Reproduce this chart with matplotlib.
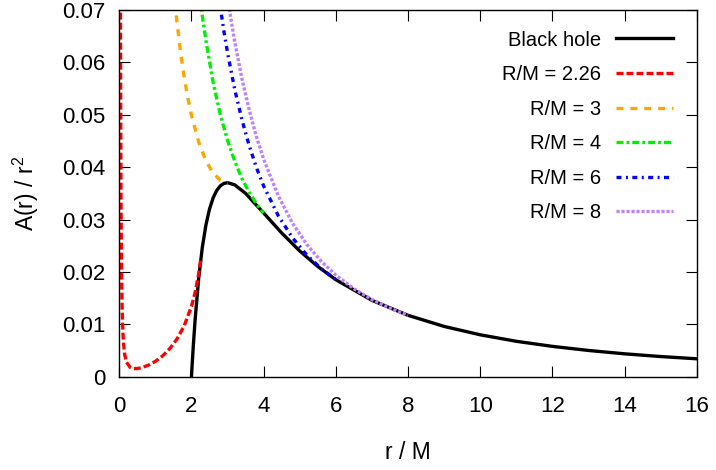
import matplotlib
matplotlib.use("Agg")
import matplotlib.pyplot as plt
from matplotlib.ticker import FuncFormatter

plt.rcParams['font.family'] = ['Liberation Sans', 'DejaVu Sans']
plt.rcParams['mathtext.fontset'] = 'custom'
plt.rcParams['mathtext.rm'] = 'Liberation Sans'
plt.rcParams['mathtext.it'] = 'Liberation Sans'
plt.rcParams['lines.scale_dashes'] = False

# values: r / M and A(r) / r^2
bh_r = [2.0, 2.02, 2.05, 2.1, 2.2, 2.3, 2.4, 2.5, 2.6, 2.7, 2.8, 2.9, 3.0, 3.2, 3.5,
        4.0, 4.5, 5.0, 5.5, 6.0, 7.0, 8.0, 9.0, 10.0, 11.0, 12.0, 13.0, 14.0, 15.0, 16.0]
bh_y = [0.0, 0.00243, 0.00580, 0.01080, 0.01878, 0.02466, 0.02894, 0.0320, 0.03414,
        0.03556, 0.03644, 0.03690, 0.03704, 0.03662, 0.03499, 0.03125, 0.02744, 0.0240,
        0.02104, 0.01852, 0.01458, 0.01172, 0.00960, 0.0080, 0.00676, 0.00579, 0.00501,
        0.00437, 0.00385, 0.00342]

r226_r = [0.033, 0.035, 0.04, 0.045, 0.05, 0.06, 0.07, 0.08, 0.1, 0.12, 0.15, 0.2, 0.3,
          0.4, 0.5, 0.6, 0.8, 1.0, 1.2, 1.4, 1.6, 1.8, 2.0, 2.1, 2.2, 2.26]
r226_y = [0.0714, 0.0636, 0.0489, 0.0388, 0.0315, 0.0221, 0.01647, 0.01279, 0.00847,
          0.00613, 0.00422, 0.00276, 0.00179, 0.00155, 0.00156, 0.00168, 0.00218, 0.00293,
          0.00397, 0.00536, 0.00720, 0.00974, 0.01343, 0.01603, 0.01959, 0.02252]

r3_r = [1.54, 1.6, 1.7, 1.8, 1.9, 2.0, 2.2, 2.4, 2.6, 2.8, 2.9, 3.0]
r3_y = [0.0716, 0.0676, 0.0618, 0.0571, 0.0532, 0.0499, 0.0448, 0.0412, 0.0389,
        0.0375, 0.03716, 0.03704]

r4_r = [2.2, 2.25, 2.3, 2.4, 2.6, 2.8, 3.0, 3.2, 3.4, 3.6, 3.8, 4.0]
r4_y = [0.0744, 0.0716, 0.0689, 0.0642, 0.0562, 0.0500, 0.0451, 0.0411, 0.0378,
        0.0352, 0.0330, 0.03125]

r6_r = [2.7, 2.8, 2.9, 3.0, 3.2, 3.4, 3.6, 3.8, 4.0, 4.4, 4.8, 5.2, 5.6, 6.0]
r6_y = [0.0755, 0.0705, 0.0659, 0.0618, 0.0548, 0.0490, 0.0441, 0.0399, 0.0364,
        0.0308, 0.0265, 0.0232, 0.0206, 0.01852]

r8_r = [2.9, 3.0, 3.1, 3.2, 3.4, 3.6, 3.8, 4.0, 4.4, 4.8, 5.2, 5.6, 6.0, 6.5, 7.0, 7.5, 8.0]
r8_y = [0.0775, 0.0725, 0.0680, 0.0639, 0.0568, 0.0509, 0.0458, 0.0415, 0.0346,
        0.0293, 0.0252, 0.0220, 0.0194, 0.01679, 0.01473, 0.01307, 0.01172]

fig = plt.figure(figsize=(7.16, 4.70), dpi=100)
ax = fig.add_axes([0.1666, 0.1985, 0.8065, 0.7802])

lw = 2.4
ax.plot(bh_r, bh_y, color='black', lw=lw, label='Black hole')
ax.plot(r226_r, r226_y, color='#ff0000', lw=lw, dashes=(5, 2.2), label='R/M = 2.26')
ax.plot(r3_r, r3_y, color='#ffa500', lw=lw, dashes=(5, 5), label='R/M = 3')
ax.plot(r4_r, r4_y, color='#00ee00', lw=lw, dashes=(5, 2.2, 2, 2.2), label='R/M = 4')
ax.plot(r6_r, r6_y, color='#0000ff', lw=lw, dashes=(3.6, 3.2, 1.4, 3.2), label='R/M = 6')
ax.plot(r8_r, r8_y, color='#bf80ff', lw=lw, dashes=(2.2, 1.4), label='R/M = 8')

ax.set_xlim(0, 16)
ax.set_ylim(0, 0.07)
ax.set_xticks(range(0, 17, 2))
ax.set_yticks([0, 0.01, 0.02, 0.03, 0.04, 0.05, 0.06, 0.07])
ax.yaxis.set_major_formatter(FuncFormatter(lambda v, p: '%g' % round(v, 4)))
ax.tick_params(direction='in', length=8, width=0.8, top=True, right=True,
               labelsize=16)
ax.tick_params(axis='x', pad=14)
ax.tick_params(axis='y', pad=10)
for s in ax.spines.values():
    s.set_linewidth(1.0)

ax.set_xlabel('r / M', fontsize=16.5, labelpad=17)
ax.set_ylabel(r'A(r) / r$^2$', fontsize=16.5, labelpad=15)

leg = ax.legend(loc='upper right', bbox_to_anchor=(0.9585, 0.944), frameon=False,
                markerfirst=False, fontsize=14.5, handlelength=2.83,
                labelspacing=0.77, handletextpad=0.75, borderpad=0, borderaxespad=0)

fig.savefig('out.png', dpi=100)
